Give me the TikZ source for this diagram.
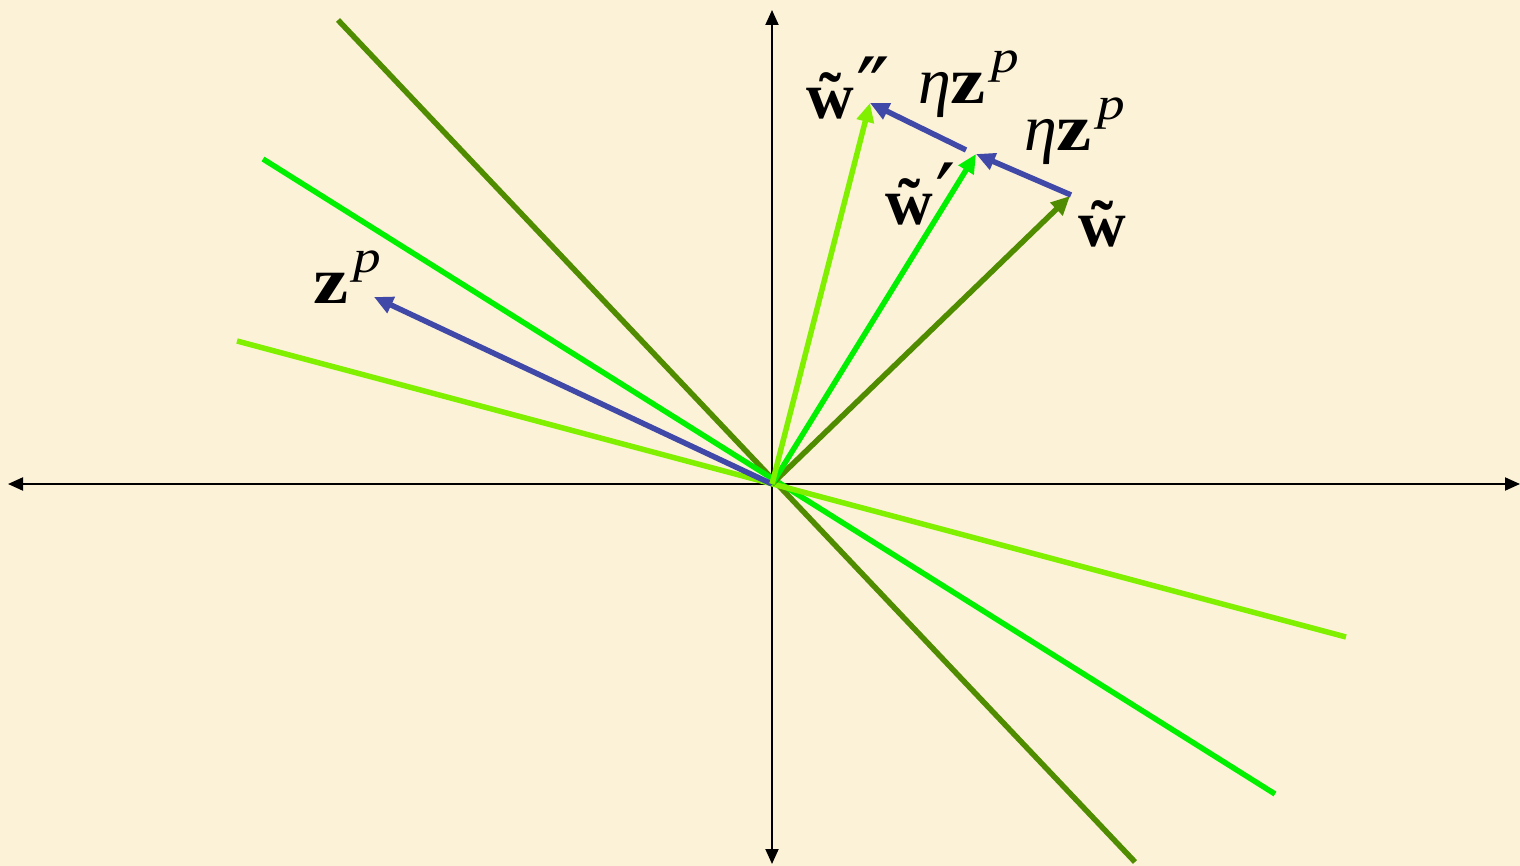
\documentclass[tikz,border=0pt]{standalone}
\usepackage{fontspec}
\setmainfont{Liberation Serif}
\newfontfamily\djv{DejaVu Serif}
\usetikzlibrary{arrows.meta}
\definecolor{bgc}{RGB}{252,242,216}
\definecolor{olive}{RGB}{80,140,0}
\definecolor{brightg}{RGB}{0,240,0}
\definecolor{limeg}{RGB}{128,240,0}
\definecolor{bluev}{RGB}{64,72,168}
\newcommand{\supp}{\hspace{5pt}\raisebox{31pt}{\fontsize{46}{46}\selectfont\scalebox{1.2}[1]{\textit{p}}}}
\newcommand{\zb}{\scalebox{1.2}[1]{\textbf{z}}}
\newcommand{\wt}{\textbf{\rlap{\makebox[0.722em][c]{\char"02DC}}w}}
\newcommand{\pr}{\hspace{3pt}\raisebox{-4pt}{\djv\fontsize{90}{90}\selectfont\char"2032}}
\newcommand{\prr}{\hspace{3pt}\raisebox{-4pt}{\djv\fontsize{90}{90}\selectfont\char"2033}}
\tikzset{
  axis/.style={line width=2pt,-{Triangle[length=15pt,width=13pt]}},
  vline/.style={line width=5.5pt},
  varrow/.style={line width=5.5pt,-{Triangle[length=19pt,width=17pt]}},
  lbl/.style={inner sep=0pt,anchor=base west,font=\fontsize{66}{72}\selectfont},
}
\begin{document}
\begin{tikzpicture}[x=1pt,y=-1pt]
\fill[bgc] (0,0) rectangle (1520,866);
\useasboundingbox (0,0) rectangle (1520,866);
\coordinate (O) at (772,484);
\coordinate (xl) at (8,484);
\coordinate (xr) at (1520,484);
\coordinate (yt) at (772,10);
\coordinate (yb) at (772,864);
\draw[axis] (O) -- (xl);
\draw[axis] (O) -- (xr);
\draw[axis] (O) -- (yt);
\draw[axis] (O) -- (yb);
% lines
\coordinate (a1) at (338,20);
\coordinate (a2) at (1135,862);
\coordinate (b1) at (263,159);
\coordinate (b2) at (1275,794);
\coordinate (c1) at (237,341);
\coordinate (c2) at (1346,637);
\draw[vline,olive] (a1) -- (a2);
\draw[vline,brightg] (b1) -- (b2);
\draw[vline,limeg] (c1) -- (c2);
% vectors
\coordinate (zp) at (374,297);
\coordinate (w) at (1070,196);
\coordinate (w1) at (976,154);
\coordinate (w2) at (870,103);
\coordinate (e1) at (1071,195);
\coordinate (e2) at (966,150);
\draw[varrow,bluev] (O) -- (zp);
\draw[varrow,olive] (O) -- (w);
\draw[varrow,brightg] (O) -- (w1);
\draw[varrow,limeg] (O) -- (w2);
\draw[varrow,bluev] (e1) -- (w1);
\draw[varrow,bluev] (e2) -- (w2);
% labels
\node[lbl] (lw2) at (806,119) {\wt\prr};
\node[lbl] (leta1) at (918,104) {\textit{η}\zb\supp};
\node[lbl] (leta2) at (1024,151) {\textit{η}\zb\supp};
\node[lbl] (lw1) at (885,225) {\wt\pr};
\node[lbl] (lw) at (1078,247) {\wt};
\node[lbl] (lz) at (313,304) {\zb\supp};
\end{tikzpicture}
\end{document}
